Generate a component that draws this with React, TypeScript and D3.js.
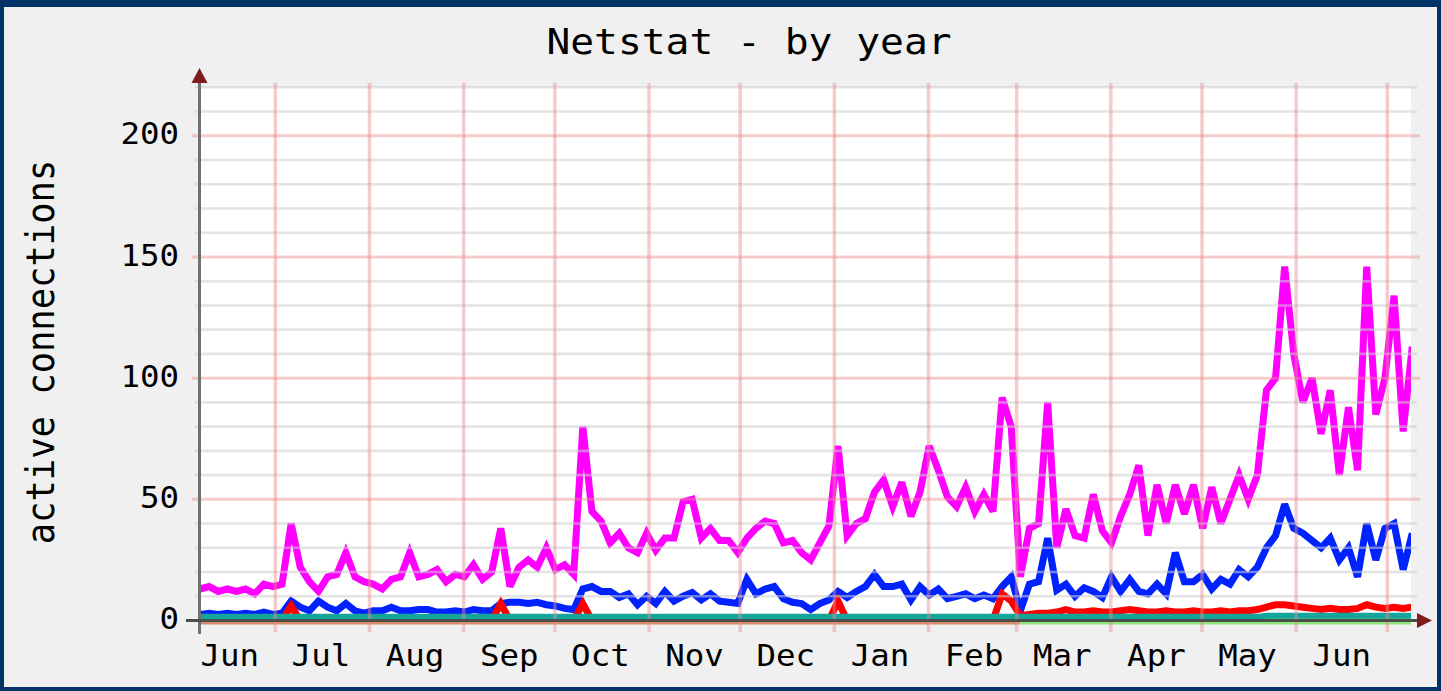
import * as d3 from 'd3';

const W = 1441;
const H = 691;
const FONT = '"DejaVu Sans Mono", "Liberation Mono", monospace';
const STRETCH = 1.1; // the source image is a little wider than tall

const PLOT = { left: 200, right: 1411, top: 87.3, bottom: 620.5 };

// x range of the graph and the 3-day sampling of the series
const domainStart = new Date(Date.UTC(2015, 5, 6, 5));
const domainEnd = new Date(Date.UTC(2016, 6, 8, 19));
const stepDays = 3;

const monthLabels = ['Jun', 'Jul', 'Aug', 'Sep', 'Oct', 'Nov', 'Dec', 'Jan', 'Feb', 'Mar', 'Apr', 'May', 'Jun'];
const yTicks = [0, 50, 100, 150, 200];
const yMax = 220;

// magenta
const established = [
  13, 14, 12, 13, 12, 13, 11, 15, 14, 15,
  40, 22, 16, 12, 18, 19, 28, 18, 16, 15,
  13, 17, 18, 28, 18, 19, 21, 16, 19, 18,
  23, 17, 20, 38, 14, 22, 25, 22, 30, 21,
  23, 19, 80, 45, 41, 32, 36, 30, 28, 36,
  29, 34, 34, 49, 50, 34, 38, 33, 33, 28,
  34, 38, 41, 40, 32, 33, 28, 25, 32, 39,
  72, 35, 40, 42, 53, 58, 47, 57, 43, 53,
  72, 62, 51, 47, 55, 45, 52, 45, 92, 80,
  18, 38, 40, 90, 30, 46, 35, 34, 52, 37,
  32, 43, 52, 64, 35, 56, 40, 56, 44, 56,
  38, 55, 40, 50, 60, 50, 60, 95, 100, 146,
  110, 90, 100, 77, 95, 60, 88, 62, 146, 85,
  100, 134, 78, 113,
];

// blue
const active = [
  2.5, 3, 2.5, 3, 2.5, 3, 2.5, 3.5, 2.5, 3,
  8, 5.5, 4, 8, 5.5, 4, 7, 4, 3, 4,
  4, 5.5, 4, 4, 4.5, 4.5, 3.5, 3.5, 4, 3.5,
  4.5, 4, 4, 7, 7.5, 7.5, 7, 7.5, 6.5, 6,
  5, 4.5, 13, 14, 12, 12, 9.5, 11, 6.5, 10,
  7, 12, 8, 10, 11.5, 8.5, 11, 8, 7.5, 7,
  17, 11, 13, 14, 9, 7.5, 7, 4.5, 7, 8.5,
  12, 9.5, 12, 14, 19, 14, 14, 15, 8.5, 14,
  10.5, 13, 9, 10, 11, 9, 10.5, 9, 14, 18,
  4, 15, 16, 34, 12.5, 15, 10, 13.5, 12, 9.5,
  18, 12, 17, 12, 11, 15, 11, 28, 16, 16,
  19, 13, 17, 15, 21, 18, 22, 30, 35, 48,
  38, 36, 33, 30, 34, 25, 30, 18, 40, 25,
  38, 40, 21, 36,
];

// red
const failed = [
  0, 0, 0, 0, 0, 0, 0, 0, 0, 0,
  6, 0, 0, 0, 0, 0, 0, 0, 0, 0,
  0, 0, 0, 0, 0, 0, 0, 0, 0, 0,
  0, 0, 0, 7, 0, 0, 0, 0, 0, 0,
  0, 0, 7, 0, 0, 0, 0, 0, 0, 0,
  0, 0, 0, 0, 0, 0, 0, 0, 0, 0,
  0, 0, 0, 0, 0, 0, 0, 0, 0, 0,
  8, 0, 0, 0, 0, 0, 0, 0, 0, 0,
  0, 0, 0, 0, 0, 0, 0, 0, 11, 8,
  2, 2.5, 3, 3, 3.5, 4.5, 3.5, 3.5, 4, 3.5,
  3.5, 4, 4.5, 4, 3.5, 3.5, 4, 3.5, 3.5, 4,
  3.5, 3.5, 4, 3.5, 4, 4, 4.5, 5.5, 6.5, 6.5,
  6, 5.5, 5, 4.5, 5, 4.5, 4.5, 5, 6.5, 5.5,
  5, 5.5, 5, 5.5,
];

// teal
const resets = [
  1.5, 1.5, 1.5, 1.5, 1.5, 1.5, 1.5, 1.5, 1.5, 1.5,
  1.5, 1.5, 1.5, 1.5, 1.5, 1.5, 1.5, 1.5, 1.5, 1.5,
  1.5, 1.5, 1.5, 1.5, 1.5, 1.5, 1.5, 1.5, 1.5, 1.5,
  1.5, 1.5, 1.5, 1.5, 1.5, 1.5, 1.5, 1.5, 1.5, 1.5,
  1.5, 1.5, 1.5, 1.5, 1.5, 1.5, 1.5, 1.5, 1.5, 1.5,
  1.5, 1.5, 1.5, 1.5, 1.5, 1.5, 1.5, 1.5, 1.5, 1.5,
  1.5, 1.5, 1.5, 1.5, 1.5, 1.5, 1.5, 1.5, 1.5, 1.5,
  1.5, 1.5, 1.5, 1.5, 1.5, 1.5, 1.5, 1.5, 1.5, 1.5,
  1.5, 1.5, 1.5, 1.5, 1.5, 1.5, 1.5, 1.5, 1.5, 1.5,
  1.5, 1.5, 1.5, 1.5, 1.5, 1.5, 1.5, 1.5, 1.5, 1.5,
  1.5, 1.5, 1.5, 1.5, 1.5, 1.5, 1.5, 1.5, 1.5, 1.5,
  1.5, 1.5, 1.5, 1.5, 1.5, 1.5, 1.5, 2, 2, 2,
  2, 2, 2, 2, 2, 2, 2, 2, 2, 2,
  2, 2, 2, 2,
];

// orange, flat at zero until March
const passive = [
  0, 0, 0, 0, 0, 0, 0, 0, 0, 0,
  0, 0, 0, 0, 0, 0, 0, 0, 0, 0,
  0, 0, 0, 0, 0, 0, 0, 0, 0, 0,
  0, 0, 0, 0, 0, 0, 0, 0, 0, 0,
  0, 0, 0, 0, 0, 0, 0, 0, 0, 0,
  0, 0, 0, 0, 0, 0, 0, 0, 0, 0,
  0, 0, 0, 0, 0, 0, 0, 0, 0, 0,
  0, 0, 0, 0, 0, 0, 0, 0, 0, 0,
  0, 0, 0, 0, 0, 0, 0, 0, 0, 0,
  0, null, null, null, null, null, null, null, null, null,
  null, null, null, null, null, null, null, null, null, null,
  null, null, null, null, null, null, null, null, null, null,
  null, null, null, null, null, null, null, null, null, null,
  null, null, null, null,
];

// light green, flat at zero from March
const closing = [
  null, null, null, null, null, null, null, null, null, null,
  null, null, null, null, null, null, null, null, null, null,
  null, null, null, null, null, null, null, null, null, null,
  null, null, null, null, null, null, null, null, null, null,
  null, null, null, null, null, null, null, null, null, null,
  null, null, null, null, null, null, null, null, null, null,
  null, null, null, null, null, null, null, null, null, null,
  null, null, null, null, null, null, null, null, null, null,
  null, null, null, null, null, null, null, null, null, null,
  0, 0, 0, 0, 0, 0, 0, 0, 0, 0,
  0, 0, 0, 0, 0, 0, 0, 0, 0, 0,
  0, 0, 0, 0, 0, 0, 0, 0, 0, 0,
  0, 0, 0, 0, 0, 0, 0, 0, 0, 0,
  0, 0, 0, 0,
];

// drawing order matters: later series sit on top
const SERIES = [
  { values: established, color: '#ff00ff', width: 7 },
  { values: active, color: '#0022ff', width: 7 },
  { values: failed, color: '#ff0000', width: 7 },
  { values: passive, color: '#d98a68', width: 8 },
  { values: closing, color: '#8ee67a', width: 8 },
  { values: resets, color: '#14a59b', width: 6 },
];

const MINOR = 'rgba(205,205,205,0.55)';
const MAJOR = 'rgba(235,140,140,0.45)';
const AXIS = '#707070';
const ARROW = '#7f1d1d';

function Label({ x, y, size, anchor = 'middle', rotate = false, children }: {
  x: number; y: number; size: number; anchor?: string; rotate?: boolean; children: string;
}) {
  const t = `translate(${x},${y}) scale(${STRETCH},1)${rotate ? ' rotate(-90)' : ''}`;
  return (
    <text transform={t} textAnchor={anchor} fontFamily={FONT} fontSize={size} fill="#000">
      {children}
    </text>
  );
}

export default function App() {
  const x = d3.scaleUtc().domain([domainStart, domainEnd]).range([PLOT.left, PLOT.right]);
  const y = d3.scaleLinear().domain([0, yMax]).range([PLOT.bottom, PLOT.top]);

  const dates = established.map((_, i) => d3.utcDay.offset(domainStart, i * stepDays));

  const line = d3.line<number | null>()
    .defined((v) => v != null)
    .x((_, i) => x(dates[i]))
    .y((v) => y(v as number));

  const monthLines = d3.utcMonth.range(domainStart, domainEnd);
  const labelDates = d3.utcMonth
    .range(d3.utcMonth.floor(domainStart), domainEnd)
    .map((d) => d3.utcDay.offset(d, 15))
    .filter((d) => d <= domainEnd);

  const gridValues = d3.range(10, yMax + 1, 10);
  const y0 = y(0);

  return (
    <svg width={W} height={H} style={{ position: 'absolute', left: 0, top: 0, display: 'block' }}>
      <defs>
        <clipPath id="plot-clip">
          <rect x={PLOT.left} y={PLOT.top - 10} width={PLOT.right - PLOT.left} height={PLOT.bottom - PLOT.top + 20} />
        </clipPath>
      </defs>

      {/* frame */}
      <rect x={0} y={0} width={W} height={H} fill="#003366" />
      <rect x={4} y={7} width={W - 8} height={H - 11} fill="#f0f0f0" />
      <rect x={PLOT.left} y={PLOT.top} width={PLOT.right - PLOT.left} height={PLOT.bottom - PLOT.top} fill="#fff" />

      {/* series */}
      <g clipPath="url(#plot-clip)">
        {SERIES.map((s, i) => (
          <path key={i} d={line(s.values) ?? ''} fill="none" stroke={s.color}
            strokeWidth={s.width} strokeLinejoin="miter" strokeMiterlimit={3} strokeLinecap="butt" />
        ))}
      </g>

      {/* grid, drawn over the data like rrdtool does */}
      {gridValues.map((v) => {
        const major = v % 50 === 0;
        return (
          <line key={v}
            x1={major ? 192 : 195} x2={major ? 1420 : 1417}
            y1={y(v)} y2={y(v)}
            stroke={major ? MAJOR : MINOR} strokeWidth={major ? 3 : 2.6} />
        );
      })}
      {monthLines.map((d) => (
        <line key={+d} x1={x(d)} x2={x(d)} y1={83} y2={632} stroke={MAJOR} strokeWidth={3.5} />
      ))}

      {/* axes */}
      <line x1={PLOT.left - 0.5} x2={PLOT.left - 0.5} y1={82} y2={634} stroke={AXIS} strokeWidth={3} />
      <line x1={186} x2={1418} y1={y0} y2={y0} stroke="#4a4f4e" strokeWidth={3} />
      <path d={`M${PLOT.left - 0.5},68 L${PLOT.left + 7.5},83 L${PLOT.left - 8.5},83 Z`} fill={ARROW} />
      <path d={`M1432,${y0} L1417,${y0 - 7.5} L1417,${y0 + 7.5} Z`} fill={ARROW} />

      {/* labels */}
      <Label x={749} y={54} size={36}>Netstat - by year</Label>
      <Label x={53.5} y={352} size={35.5} rotate>active connections</Label>
      {yTicks.map((v) => (
        <Label key={v} x={179} y={y(v) + 8.6} size={29.5} anchor="end">{String(v)}</Label>
      ))}
      {labelDates.map((d, i) => (
        <Label key={+d} x={x(d)} y={666} size={29.5}>{monthLabels[i]}</Label>
      ))}
    </svg>
  );
}
